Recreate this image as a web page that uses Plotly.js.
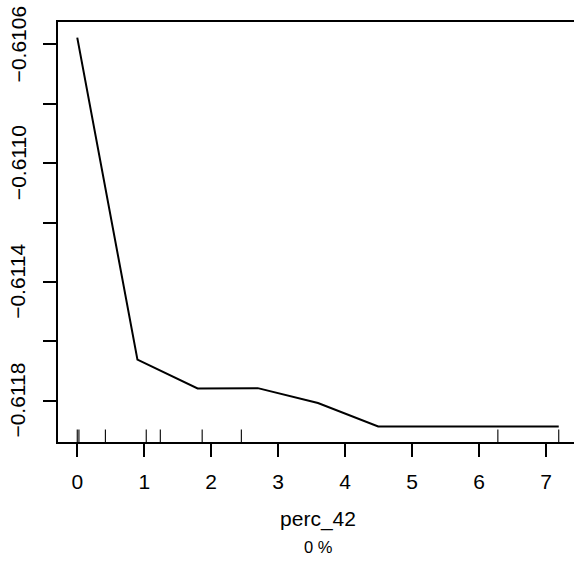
<!DOCTYPE html>
<html>
<head>
<meta charset="utf-8">
<script src="https://cdn.plot.ly/plotly-3.0.1.min.js"></script>
<style>
html, body { margin: 0; padding: 0; overflow: hidden; background: #fff; }
#chart { width: 578px; height: 562px; }
</style>
</head>
<body>
<div id="chart"></div>
<script>
// Partial dependence values
var xValues = [0, 0.8986, 1.797, 2.696, 3.594, 4.493, 5.391, 6.290, 7.189];
var yValues = [-0.610577, -0.611662, -0.611759, -0.611758, -0.611808, -0.611887, -0.611887, -0.611887, -0.611887];
// Rug (observed data deciles)
var rugX = [0, 0.025, 0.42, 1.03, 1.24, 1.865, 2.45, 6.28, 7.189];
// Tick labels
var xTickVals = [0, 1, 2, 3, 4, 5, 6, 7];
var xTickText = ["0", "1", "2", "3", "4", "5", "6", "7"];
var yTickVals = [-0.6106, -0.6108, -0.6110, -0.6112, -0.6114, -0.6116, -0.6118];
var yTickText = ["\u22120.6106", "", "\u22120.6110", "", "\u22120.6114", "", "\u22120.6118"];
var xLabel = "perc_42";
var subLabel = "0 %";

var FONT = "Liberation Sans, Arial, Helvetica, sans-serif";

var rugXs = [], rugYs = [];
rugX.forEach(function (v) { rugXs.push(v, v, null); rugYs.push(0, 0.03, null); });

var xmin = Math.min.apply(null, xValues), xmax = Math.max.apply(null, xValues);
var ymin = Math.min.apply(null, yValues), ymax = Math.max.apply(null, yValues);
var xpad = (xmax - xmin) * 0.04, ypad = (ymax - ymin) * 0.04;

var traces = [
  {
    x: xValues, y: yValues, type: "scatter", mode: "lines",
    line: { color: "#000", width: 2 }, hoverinfo: "skip"
  },
  {
    x: rugXs, y: rugYs, type: "scatter", mode: "lines", yaxis: "y2",
    line: { color: "#000", width: 1.1 }, hoverinfo: "skip"
  }
];

// rotated y tick labels (R style, las = 0)
var annotations = [];
yTickVals.forEach(function (v, i) {
  if (!yTickText[i]) return;
  annotations.push({
    text: yTickText[i], xref: "paper", yref: "y", x: 0, y: v,
    xshift: -40, xanchor: "center", yanchor: "middle", textangle: -90,
    showarrow: false, font: { family: FONT, size: 21, color: "#000" }
  });
});
annotations.push({
  text: subLabel, xref: "paper", yref: "paper", x: 0.5, y: 0,
  yshift: -116, xanchor: "center", yanchor: "bottom", showarrow: false,
  font: { family: FONT, size: 16.5, color: "#000" }
});

var layout = {
  width: 578, height: 562,
  margin: { l: 58, r: 0, t: 22, b: 120, pad: 0 },
  paper_bgcolor: "#fff", plot_bgcolor: "#fff",
  showlegend: false,
  font: { family: FONT, size: 21, color: "#000" },
  xaxis: {
    range: [xmin - xpad, xmax + xpad],
    tickvals: xTickVals, ticktext: xTickText,
    ticks: "outside", ticklen: 13, tickwidth: 2, tickcolor: "#000",
    showline: true, linewidth: 2, linecolor: "#000", mirror: true,
    showgrid: false, zeroline: false,
    tickfont: { family: FONT, size: 21, color: "#000" },
    ticklabelstandoff: 7,
    title: { text: xLabel, font: { family: FONT, size: 21, color: "#000" }, standoff: 19 }
  },
  yaxis: {
    range: [ymin - ypad, ymax + ypad],
    tickvals: yTickVals, showticklabels: false,
    ticks: "outside", ticklen: 13, tickwidth: 2, tickcolor: "#000",
    showline: true, linewidth: 2, linecolor: "#000", mirror: false,
    showgrid: false, zeroline: false
  },
  yaxis2: { overlaying: "y", range: [0, 1], visible: false, fixedrange: true },
  annotations: annotations
};

Plotly.newPlot("chart", traces, layout, { staticPlot: true, displayModeBar: false });
</script>
</body>
</html>
